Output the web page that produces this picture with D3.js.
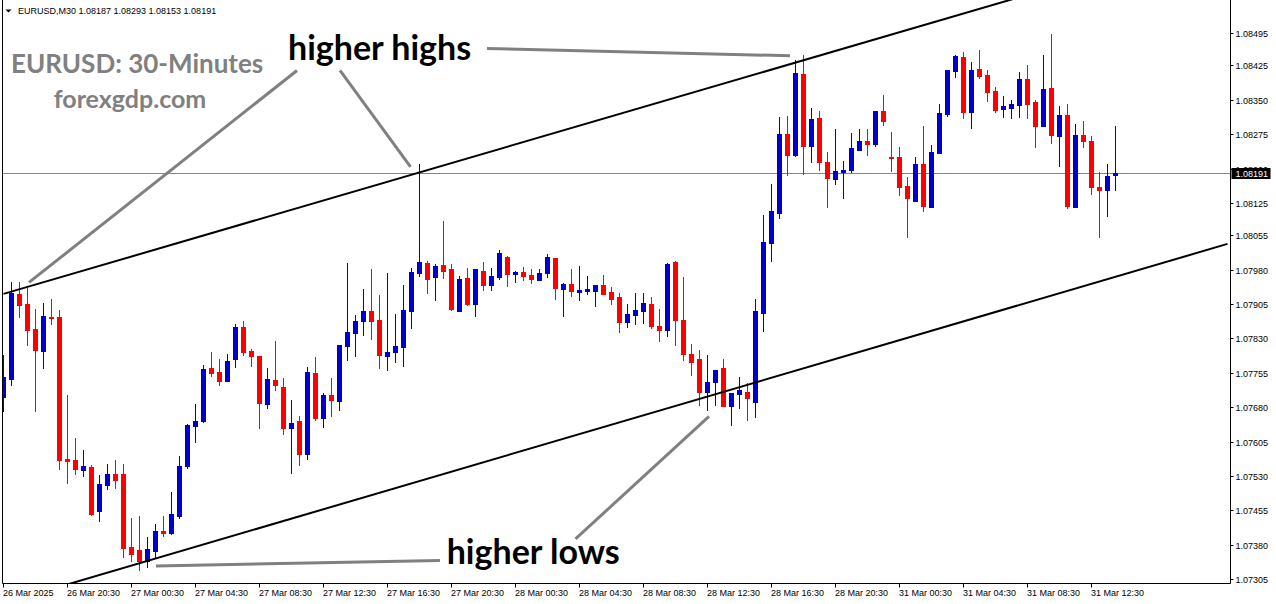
<!DOCTYPE html>
<html>
<head>
<meta charset="utf-8">
<script src="https://cdn.jsdelivr.net/npm/d3@7/dist/d3.min.js"></script>
<style>
  html, body { margin: 0; padding: 0; background: #ffffff; }
  svg { display: block; }
</style>
</head>
<body>
<script>
// ---------------- DATA ----------------
const symbol = "EURUSD,M30";
const lastQuote = [1.08187, 1.08293, 1.08153, 1.08191];
const currentPrice = 1.08191;

const opens = [
1.07702,1.07742,1.07926,1.07904,1.07850,1.07803,1.07877,1.07877,1.07567,1.07564,
1.07543,1.07549,1.07454,1.07510,1.07534,1.07534,1.07375,1.07368,1.07345,1.07367,
1.07410,1.07406,1.07443,1.07551,1.07639,1.07649,1.07765,1.07756,1.07737,1.07785,
1.07854,1.07802,1.07791,1.07687,1.07739,1.07724,1.07635,1.07649,1.07578,1.07754,
1.07657,1.07706,1.07694,1.07814,1.07841,1.07867,1.07889,1.07870,1.07792,1.07800,
1.07811,1.07890,1.07972,1.07994,1.07964,1.07989,1.07981,1.07890,1.07961,1.07904,
1.07978,1.07946,1.07963,1.08007,1.07970,1.07974,1.07968,1.07957,1.07972,1.08005,
1.07937,1.07948,1.07931,1.07933,1.07933,1.07946,1.07931,1.07920,1.07865,1.07880,
1.07889,1.07904,1.07856,1.07848,1.07996,1.07871,1.07795,1.07785,1.07713,1.07735,
1.07765,1.07683,1.07708,1.07713,1.07691,1.07885,1.08038,1.08103,1.08275,1.08229,
1.08406,1.08249,1.08310,1.08214,1.08178,1.08192,1.08196,1.08240,1.08260,1.08253,
1.08325,1.08225,1.08225,1.08162,1.08130,1.08210,1.08116,1.08234,1.08319,1.08412,
1.08443,1.08323,1.08417,1.08404,1.08369,1.08329,1.08332,1.08338,1.08395,1.08345,
1.08292,1.08375,1.08271,1.08316,1.08116,1.08273,1.08260,1.08160,1.08153,1.08187
];
const highs = [
1.07793,1.07952,1.07952,1.07939,1.07895,1.07907,1.07915,1.07891,1.07706,1.07612,
1.07586,1.07555,1.07532,1.07556,1.07564,1.07556,1.07439,1.07442,1.07397,1.07425,
1.07442,1.07495,1.07573,1.07644,1.07686,1.07771,1.07800,1.07785,1.07795,1.07861,
1.07867,1.07808,1.07791,1.07766,1.07824,1.07744,1.07695,1.07662,1.07767,1.07789,
1.07712,1.07743,1.07815,1.07994,1.07880,1.07937,1.07981,1.07924,1.07972,1.07883,
1.07946,1.07983,1.08211,1.07998,1.07992,1.08085,1.07992,1.07965,1.07983,1.07981,
1.07996,1.07983,1.08022,1.08009,1.07978,1.07985,1.07981,1.07981,1.08013,1.08005,
1.07950,1.07981,1.07987,1.07965,1.07946,1.07968,1.07941,1.07928,1.07904,1.07928,
1.07928,1.07920,1.07894,1.07994,1.07998,1.07963,1.07817,1.07804,1.07793,1.07761,
1.07785,1.07711,1.07745,1.07732,1.07917,1.08098,1.08166,1.08312,1.08314,1.08436,
1.08447,1.08332,1.08325,1.08236,1.08286,1.08216,1.08277,1.08286,1.08286,1.08325,
1.08360,1.08279,1.08247,1.08181,1.08225,1.08292,1.08251,1.08342,1.08414,1.08447,
1.08454,1.08432,1.08458,1.08414,1.08377,1.08358,1.08349,1.08410,1.08427,1.08349,
1.08447,1.08493,1.08336,1.08340,1.08297,1.08303,1.08271,1.08192,1.08210,1.08293
];
const lows = [
1.07672,1.07728,1.07877,1.07815,1.07671,1.07766,1.07862,1.07545,1.07515,1.07535,
1.07530,1.07445,1.07432,1.07501,1.07504,1.07354,1.07345,1.07326,1.07331,1.07352,
1.07399,1.07403,1.07439,1.07547,1.07604,1.07647,1.07748,1.07728,1.07737,1.07768,
1.07793,1.07769,1.07635,1.07678,1.07718,1.07622,1.07537,1.07554,1.07567,1.07652,
1.07637,1.07662,1.07673,1.07783,1.07792,1.07837,1.07828,1.07766,1.07761,1.07778,
1.07769,1.07853,1.07965,1.07929,1.07914,1.07962,1.07891,1.07890,1.07902,1.07879,
1.07935,1.07935,1.07959,1.07944,1.07952,1.07957,1.07950,1.07957,1.07963,1.07915,
1.07878,1.07922,1.07913,1.07926,1.07900,1.07926,1.07904,1.07843,1.07855,1.07861,
1.07863,1.07852,1.07824,1.07835,1.07815,1.07782,1.07750,1.07684,1.07673,1.07684,
1.07683,1.07641,1.07678,1.07652,1.07659,1.07846,1.07999,1.08093,1.08186,1.08227,
1.08189,1.08214,1.08196,1.08116,1.08167,1.08136,1.08192,1.08240,1.08229,1.08249,
1.08295,1.08194,1.08142,1.08050,1.08130,1.08108,1.08116,1.08234,1.08314,1.08399,
1.08310,1.08288,1.08397,1.08347,1.08323,1.08312,1.08310,1.08312,1.08310,1.08247,
1.08292,1.08257,1.08205,1.08114,1.08116,1.08247,1.08144,1.08051,1.08096,1.08153
];
const closes = [
1.07746,1.07928,1.07902,1.07848,1.07804,1.07878,1.07874,1.07564,1.07563,1.07545,
1.07551,1.07448,1.07512,1.07534,1.07521,1.07373,1.07360,1.07344,1.07370,1.07410,
1.07405,1.07447,1.07553,1.07641,1.07649,1.07763,1.07755,1.07737,1.07780,1.07854,
1.07800,1.07791,1.07689,1.07741,1.07728,1.07635,1.07645,1.07578,1.07756,1.07657,
1.07706,1.07695,1.07815,1.07843,1.07867,1.07889,1.07867,1.07794,1.07800,1.07813,
1.07891,1.07974,1.07996,1.07960,1.07987,1.07977,1.07894,1.07959,1.07904,1.07981,
1.07946,1.07965,1.08016,1.07970,1.07974,1.07965,1.07959,1.07972,1.08007,1.07940,
1.07948,1.07933,1.07935,1.07937,1.07946,1.07926,1.07915,1.07865,1.07883,1.07891,
1.07907,1.07856,1.07848,1.07992,1.07870,1.07797,1.07779,1.07713,1.07734,1.07761,
1.07683,1.07711,1.07718,1.07700,1.07889,1.08040,1.08107,1.08275,1.08229,1.08408,
1.08249,1.08308,1.08214,1.08180,1.08194,1.08196,1.08244,1.08260,1.08253,1.08325,
1.08303,1.08223,1.08160,1.08135,1.08210,1.08118,1.08236,1.08321,1.08414,1.08445,
1.08323,1.08414,1.08401,1.08366,1.08327,1.08336,1.08340,1.08395,1.08342,1.08292,
1.08373,1.08273,1.08316,1.08118,1.08273,1.08260,1.08160,1.08154,1.08183,1.08191
];

// time-axis labels (bar index of each label)
const timeTickIndex = [0,8,16,24,32,40,48,56,64,72,80,88,96,104,112,120,128,136];
const timeTickLabels = ["26 Mar 2025","26 Mar 20:30","27 Mar 00:30","27 Mar 04:30","27 Mar 08:30",
  "27 Mar 12:30","27 Mar 16:30","27 Mar 20:30","28 Mar 00:30","28 Mar 04:30","28 Mar 08:30",
  "28 Mar 12:30","28 Mar 16:30","28 Mar 20:30","31 Mar 00:30","31 Mar 04:30","31 Mar 08:30","31 Mar 12:30"];

// price-axis labels
const priceTicks = [1.08495,1.08425,1.08350,1.08275,1.08200,1.08125,1.08055,1.07980,1.07905,
  1.07830,1.07755,1.07680,1.07605,1.07530,1.07455,1.07380,1.07305];

// channel lines [barIndex, price]
const upperChannel = [[0, 1.07927], [140, 1.08640]];
const lowerChannel = [[0, 1.07253], [153, 1.08036]];

// annotation pointer lines [barIndex, price]
const pointerLines = [
  [[3.19, 1.07952], [36.69, 1.08414]],
  [[42.06, 1.08414], [50.88, 1.08204]],
  [[60.44, 1.08462], [98.31, 1.08446]],
  [[19.06, 1.07334], [54.56, 1.07346]],
  [[71.5, 1.07393], [88.19, 1.07660]]
];
const annotations = [
  {text: "higher highs", i: 35.56, p: 1.08436},
  {text: "higher lows", i: 55.40, p: 1.07339}
];
const titleText = "EURUSD: 30-Minutes";
const siteText = "forexgdp.com";

// ---------------- LAYOUT ----------------
const W = 1276, H = 604;
const plotLeft = 2.5, plotRight = 1230.5, plotTop = 0, plotBottom = 583.5;

const x = d3.scaleLinear().domain([0, 139]).range([3.5, 1115.5]);
const y = d3.scaleLinear().domain([1.07305, 1.08495]).range([579.3, 33.3]);

const bull = "#0000cc", bear = "#ff0000";

const svg = d3.select("body").append("svg").attr("width", W).attr("height", H);

svg.append("defs").append("clipPath").attr("id", "plotClip")
  .append("rect").attr("x", plotLeft).attr("y", plotTop)
  .attr("width", plotRight - plotLeft).attr("height", plotBottom - plotTop);

const plot = svg.append("g").attr("clip-path", "url(#plotClip)");

// current price line
plot.append("line")
  .attr("x1", plotLeft).attr("x2", plotRight)
  .attr("y1", Math.round(y(currentPrice)) + 0.5).attr("y2", Math.round(y(currentPrice)) + 0.5)
  .attr("stroke", "#7f8690").attr("stroke-width", 1);

// candles
const bars = d3.range(opens.length).map(i => ({i, o: opens[i], h: highs[i], l: lows[i], c: closes[i]}));
const cg = plot.append("g");
bars.forEach(d => {
  const col = d.c >= d.o ? bull : bear;
  const cx = Math.floor(x(d.i)) + 0.5;
  cg.append("line").attr("x1", cx).attr("x2", cx)
    .attr("y1", Math.round(y(d.h))).attr("y2", Math.round(y(d.l)) + 1)
    .attr("stroke", col).attr("stroke-width", 1);
  const top = Math.round(y(Math.max(d.o, d.c)));
  const bot = Math.round(y(Math.min(d.o, d.c)));
  cg.append("rect").attr("x", cx - 2.5).attr("y", top)
    .attr("width", 5).attr("height", Math.max(1, bot - top + 1))
    .attr("fill", col);
});

// channel lines
const lineGen = d3.line().x(d => x(d[0])).y(d => y(d[1]));
[upperChannel, lowerChannel].forEach(ch => {
  plot.append("path").attr("d", lineGen(ch))
    .attr("fill", "none").attr("stroke", "#000").attr("stroke-width", 2);
});

// pointer lines
pointerLines.forEach(pl => {
  plot.append("path").attr("d", lineGen(pl))
    .attr("fill", "none").attr("stroke", "#808080").attr("stroke-width", 3);
});

// annotation texts
annotations.forEach(a => {
  svg.append("text").attr("x", x(a.i)).attr("y", y(a.p))
    .attr("font-family", "Lato, 'Open Sans', sans-serif").attr("font-weight", "bold")
    .attr("font-size", 34).attr("fill", "#000").text(a.text);
});

// titles
svg.append("text").attr("x", 11).attr("y", 73)
  .attr("font-family", "Lato, 'Open Sans', sans-serif").attr("font-weight", "bold")
  .attr("font-size", 26).attr("fill", "#808080").text(titleText);
svg.append("text").attr("x", 130).attr("y", 108).attr("text-anchor", "middle")
  .attr("font-family", "Lato, 'Open Sans', sans-serif").attr("font-weight", "bold")
  .attr("font-size", 25).attr("fill", "#808080").text(siteText);

// header
svg.append("path").attr("d", "M5.5,9.5 L11.5,9.5 L8.5,12.5 Z").attr("fill", "#000");
svg.append("text").attr("x", 18).attr("y", 14)
  .attr("font-family", "'Liberation Sans', Arial, sans-serif").attr("font-size", 9)
  .attr("fill", "#000")
  .text(symbol + "  " + lastQuote.map(v => v.toFixed(5)).join(" "));

// frame
svg.append("line").attr("x1", plotLeft).attr("x2", plotLeft).attr("y1", 0).attr("y2", plotBottom)
  .attr("stroke", "#000");
svg.append("line").attr("x1", plotRight).attr("x2", plotRight).attr("y1", 0).attr("y2", plotBottom)
  .attr("stroke", "#000");
svg.append("line").attr("x1", plotLeft).attr("x2", plotRight).attr("y1", plotBottom).attr("y2", plotBottom)
  .attr("stroke", "#000");

// price axis
const pa = svg.append("g");
priceTicks.forEach(p => {
  const yy = Math.round(y(p)) + 0.5;
  pa.append("line").attr("x1", plotRight).attr("x2", plotRight + 3).attr("y1", yy).attr("y2", yy)
    .attr("stroke", "#000");
  pa.append("text").attr("x", plotRight + 5).attr("y", yy).attr("dy", "0.35em")
    .attr("font-family", "'Liberation Sans', Arial, sans-serif").attr("font-size", 9)
    .attr("fill", "#000").text(p.toFixed(5));
});
// current price box
const cy = Math.round(y(currentPrice)) + 0.5;
pa.append("rect").attr("x", plotRight + 1).attr("y", cy - 5.5).attr("width", 39).attr("height", 11)
  .attr("fill", "#000");
pa.append("text").attr("x", plotRight + 5).attr("y", cy).attr("dy", "0.35em")
  .attr("font-family", "'Liberation Sans', Arial, sans-serif").attr("font-size", 9)
  .attr("fill", "#fff").text(currentPrice.toFixed(5));

// time axis
const ta = svg.append("g");
timeTickIndex.forEach((ti, k) => {
  const xx = Math.floor(x(ti)) + 0.5;
  ta.append("line").attr("x1", xx).attr("x2", xx).attr("y1", plotBottom).attr("y2", plotBottom + 4)
    .attr("stroke", "#000");
  ta.append("text").attr("x", xx - 0.5).attr("y", 596)
    .attr("font-family", "'Liberation Sans', Arial, sans-serif").attr("font-size", 9)
    .attr("fill", "#000").text(timeTickLabels[k]);
});
</script>
</body>
</html>
